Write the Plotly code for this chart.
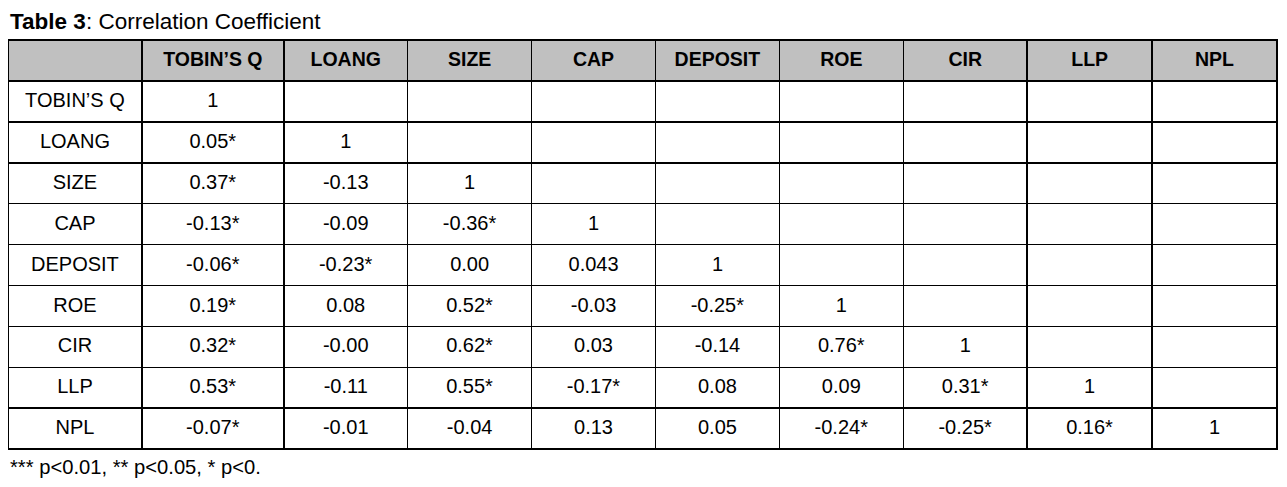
import plotly.graph_objects as go

variables = ["TOBIN’S Q", "LOANG", "SIZE", "CAP", "DEPOSIT", "ROE", "CIR", "LLP", "NPL"]

# lower-triangular correlation matrix (as printed, with significance stars)
row_tobinsq = ["1"]
row_loang = ["0.05*", "1"]
row_size = ["0.37*", "-0.13", "1"]
row_cap = ["-0.13*", "-0.09", "-0.36*", "1"]
row_deposit = ["-0.06*", "-0.23*", "0.00", "0.043", "1"]
row_roe = ["0.19*", "0.08", "0.52*", "-0.03", "-0.25*", "1"]
row_cir = ["0.32*", "-0.00", "0.62*", "0.03", "-0.14", "0.76*", "1"]
row_llp = ["0.53*", "-0.11", "0.55*", "-0.17*", "0.08", "0.09", "0.31*", "1"]
row_npl = ["-0.07*", "-0.01", "-0.04", "0.13", "0.05", "-0.24*", "-0.25*", "0.16*", "1"]

rows = [row_tobinsq, row_loang, row_size, row_cap, row_deposit,
        row_roe, row_cir, row_llp, row_npl]

title_text = "<b>Table 3</b>: Correlation Coefficient"
footnote_text = "*** p<0.01, ** p<0.05, * p<0."

n = len(variables)
matrix = [r + [""] * (n - len(r)) for r in rows]
columns = [variables] + [[matrix[i][j] for i in range(n)] for j in range(n)]
# wrap in a (style-free) span so cell text sits like header text
columns_html = [["<span>%s</span>" % s if s else "" for s in col] for col in columns]
header_labels = [""] + ["<b>%s</b>" % v for v in variables]

# the html page body has an 8px margin: figure is offset by it
OFF = 8
W, H = 1287 - OFF, 487 - OFF
FONT = "Liberation Sans, Arial, sans-serif"
COLW = [134, 142, 124, 124, 124, 124, 124, 124, 125, 125]


def px_x(x):
    return (x - OFF) / W


def px_y(y):
    return (H - (y - OFF)) / H


fig = go.Figure(go.Table(
    columnwidth=COLW,
    header=dict(
        values=header_labels,
        fill_color="#c0c0c0",
        line=dict(color="black", width=1.5),
        align="center",
        font=dict(family=FONT, size=19.5, color="black"),
        height=41,
    ),
    cells=dict(
        values=columns_html,
        fill_color="white",
        line=dict(color="black", width=1.5),
        align="center",
        font=dict(family=FONT, size=20, color="black"),
        height=40.9,
    ),
    domain=dict(x=[px_x(8), px_x(1277)], y=[px_y(450), px_y(40)]),
))

fig.add_annotation(text=title_text, xref="paper", yref="paper",
                   x=px_x(8), y=px_y(21), xanchor="left", yanchor="middle",
                   showarrow=False, font=dict(family=FONT, size=22.5, color="black"))
fig.add_annotation(text=footnote_text, xref="paper", yref="paper",
                   x=px_x(8), y=px_y(467), xanchor="left", yanchor="middle",
                   showarrow=False, font=dict(family=FONT, size=20.2, color="black"))

fig.update_layout(width=W, height=H, margin=dict(l=0, r=0, t=0, b=0),
                  paper_bgcolor="white", plot_bgcolor="white")

fig.write_html("out.html")
